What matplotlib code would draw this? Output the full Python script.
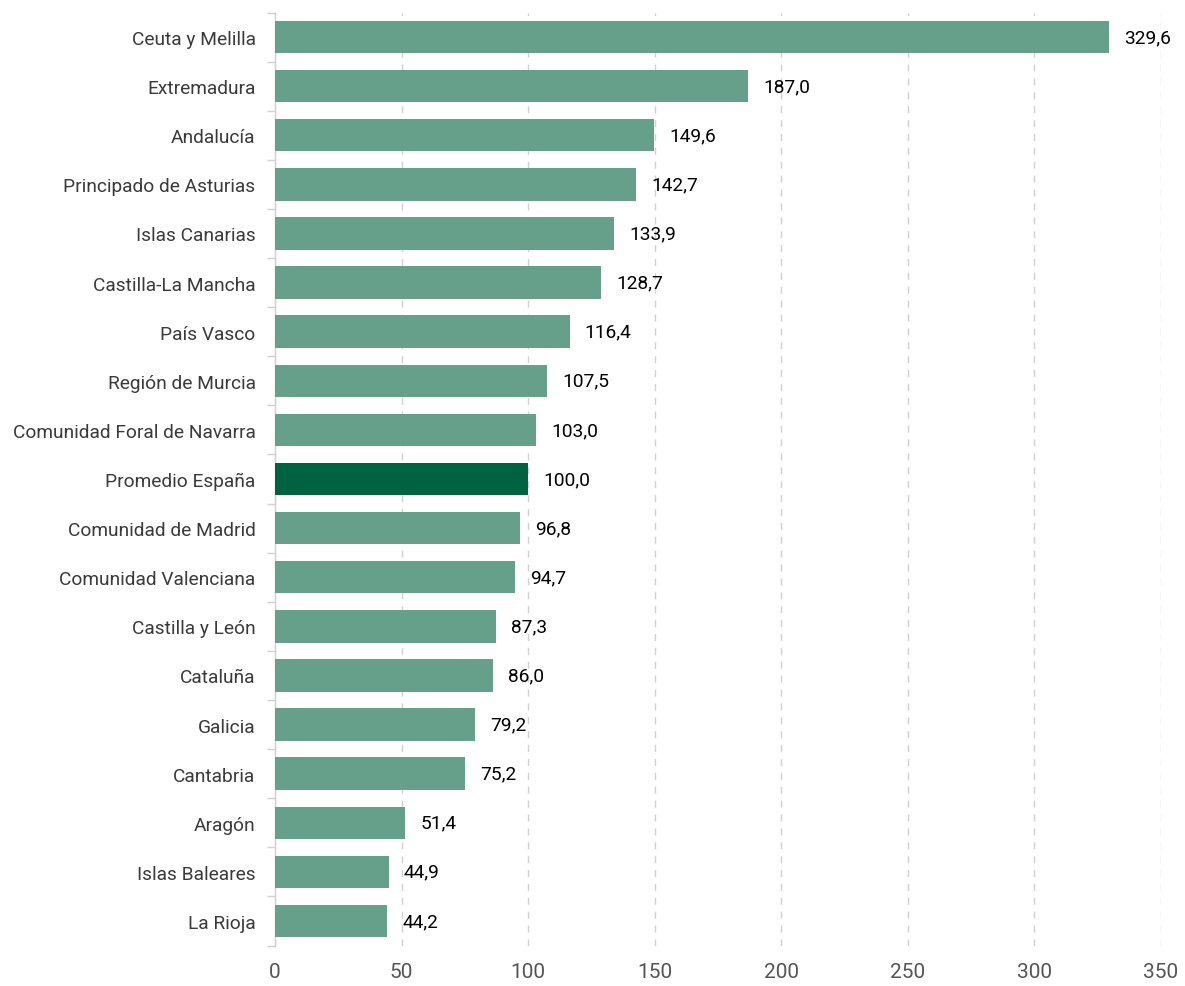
import matplotlib
matplotlib.use("Agg")
import matplotlib.pyplot as plt
from matplotlib.ticker import FixedLocator

regions = ["Ceuta y Melilla", "Extremadura", "Andalucía", "Principado de Asturias",
           "Islas Canarias", "Castilla-La Mancha", "País Vasco", "Región de Murcia",
           "Comunidad Foral de Navarra", "Promedio España", "Comunidad de Madrid",
           "Comunidad Valenciana", "Castilla y León", "Cataluña", "Galicia",
           "Cantabria", "Aragón", "Islas Baleares", "La Rioja"]
values = [329.6, 187.0, 149.6, 142.7, 133.9, 128.7, 116.4, 107.5, 103.0, 100.0,
          96.8, 94.7, 87.3, 86.0, 79.2, 75.2, 51.4, 44.9, 44.2]
highlight = "Promedio España"
xticks = [0, 50, 100, 150, 200, 250, 300, 350]

plt.rcParams['font.family'] = ['Roboto', 'DejaVu Sans']

fig = plt.figure(figsize=(11.85, 9.87), dpi=100)
ax = fig.add_axes([275/1185, 1 - 946.5/987, (1161-275)/1185, (946.5-13.5)/987])

ypos = list(range(len(regions)))
colors = ["#006241" if r == highlight else "#66a08b" for r in regions]
ax.barh(ypos, values, height=0.66, color=colors, zorder=3)
ax.set_ylim(len(regions) - 0.5, -0.5)
ax.set_xlim(0, 350)

for y, v in zip(ypos, values):
    ax.text(v + 6, y, f"{v:.1f}".replace(".", ","), va="center", ha="left",
            fontsize=13.8, color="#000000", zorder=4, clip_on=False)

ax.set_yticks(ypos)
ax.set_yticklabels(regions, fontsize=13.8, fontweight="normal", color="#3a3a3a")
ax.yaxis.set_minor_locator(FixedLocator([i - 0.5 for i in range(len(regions) + 1)]))
ax.tick_params(axis="y", which="major", length=0, pad=14)
ax.tick_params(axis="y", which="minor", length=6, color="#d0d0d0", width=1)

ax.set_xticks(xticks)
ax.set_xticklabels([str(t) for t in xticks], fontsize=15, fontweight="normal", color="#555555")
ax.tick_params(axis="x", length=0, pad=12)
ax.grid(axis="x", linestyle=(0, (5, 5)), color="#d0d0d0", linewidth=1, zorder=0)

for s in ["top", "right", "bottom"]:
    ax.spines[s].set_visible(False)
ax.spines["left"].set_color("#d0d0d0")
ax.spines["left"].set_linewidth(1)

fig.savefig("out.png", dpi=100)
